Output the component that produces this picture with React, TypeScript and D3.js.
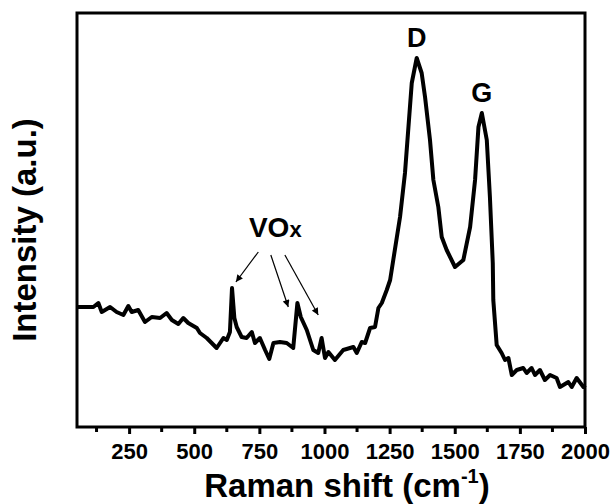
import React, { useEffect, useRef } from "react";
import * as d3 from "d3";

// Raman spectrum (x: cm^-1, y: a.u.)
const shift = [
  50, 55, 113, 132, 145, 177, 202, 228, 247, 260, 285, 311, 337, 369, 394, 414,
  439, 458, 477, 510, 522, 548, 586, 612, 625, 637, 645, 654, 663, 682, 701, 721,
  733, 752, 772, 788, 804, 829, 855, 880, 896, 909, 932, 957, 976, 989, 1002, 1015,
  1040, 1072, 1098, 1111, 1124, 1143, 1156, 1175, 1194, 1207, 1220, 1239, 1252, 1264,
  1290, 1309, 1335, 1354, 1373, 1386, 1405, 1418, 1437, 1450, 1469, 1501, 1533, 1559,
  1578, 1591, 1604, 1623, 1635, 1646, 1648, 1661, 1680, 1693, 1706, 1719, 1738, 1763,
  1776, 1795, 1808, 1827, 1846, 1866, 1891, 1904, 1936, 1949, 1968, 1994, 2000,
];
const intensity = [
  120, 120, 120, 124, 115, 120, 115, 112, 121, 115, 117, 105, 110, 109, 114, 107,
  103, 109, 104, 99, 94, 89, 79, 89, 87, 95, 139, 109, 100, 90, 89, 95,
  84, 89, 77, 68, 84, 85, 84, 79, 124, 110, 97, 77, 74, 89, 69, 75,
  67, 77, 79, 80, 74, 85, 84, 99, 100, 119, 124, 137, 147, 167,
  210, 254, 344, 369, 354, 330, 287, 247, 220, 190, 177, 160, 167, 200,
  247, 300, 314, 287, 230, 164, 127, 82, 74, 67, 69, 52, 57, 59,
  54, 59, 52, 57, 47, 52, 49, 40, 45, 40, 49, 40, 42,
];

const majorTicks = [250, 500, 750, 1000, 1250, 1500, 1750, 2000];
const minorTicks = [125, 375, 625, 875, 1125, 1375, 1625, 1875];

const peakLabels = [
  { text: "D", x: 1354, y: 380 },
  { text: "G", x: 1604, y: 325 },
];

// arrows from the VOx label to the small peaks: [x0, y0, x1, y1] in data units
const voxArrows = [
  [746, 175, 660, 145],
  [794, 172, 861, 120],
  [848, 172, 976, 112],
];

const FONT = "'Liberation Sans', Arial, Helvetica, sans-serif";

const App = () => {
  const ref = useRef<SVGSVGElement>(null);

  useEffect(() => {
    drawChart();
  }, []);

  const drawChart = () => {
    const width = 614;
    const height = 504;
    const margin = { top: 13, right: 29, bottom: 77, left: 77 };

    const svg = d3.select(ref.current);
    svg.selectAll("*").remove();
    svg.attr("width", width).attr("height", height);

    const x = d3
      .scaleLinear()
      .domain([50, 2000])
      .range([margin.left, width - margin.right]);

    const y = d3
      .scaleLinear()
      .domain([0, 414])
      .range([height - margin.bottom, margin.top]);

    const defs = svg.append("defs");
    defs
      .append("marker")
      .attr("id", "arrowhead")
      .attr("viewBox", "0 0 10 10")
      .attr("refX", 10)
      .attr("refY", 5)
      .attr("markerWidth", 9)
      .attr("markerHeight", 7)
      .attr("markerUnits", "userSpaceOnUse")
      .attr("orient", "auto")
      .append("path")
      .attr("d", "M0,0 L10,5 L0,10 Z")
      .attr("fill", "#000");

    // x axis (ticks outward)
    const bottom = height - margin.bottom;
    const axis = svg.append("g").attr("transform", `translate(0,${bottom})`);
    axis
      .call(
        d3
          .axisBottom(x)
          .tickValues(majorTicks)
          .tickSize(7)
          .tickPadding(9)
          .tickFormat(d3.format("d"))
      )
      .call((g) => g.select(".domain").remove());
    axis.selectAll(".tick line").attr("stroke", "#000").attr("stroke-width", 3);
    axis
      .selectAll(".tick text")
      .attr("fill", "#000")
      .attr("font-family", FONT)
      .attr("font-weight", "bold")
      .attr("font-size", 22);

    axis
      .selectAll(".minor")
      .data(minorTicks)
      .enter()
      .append("line")
      .attr("x1", (d) => x(d))
      .attr("x2", (d) => x(d))
      .attr("y1", 0)
      .attr("y2", 5)
      .attr("stroke", "#000")
      .attr("stroke-width", 3);

    // spectrum
    const pts = shift.map((s, i) => [s, intensity[i]]);
    const line = d3
      .line()
      .x((d) => x(d[0]))
      .y((d) => y(d[1]));

    svg
      .append("path")
      .datum(pts)
      .attr("fill", "none")
      .attr("stroke", "#000")
      .attr("stroke-width", 4)
      .attr("stroke-linejoin", "round")
      .attr("d", line);

    // frame
    svg
      .append("rect")
      .attr("x", margin.left)
      .attr("y", margin.top)
      .attr("width", width - margin.left - margin.right)
      .attr("height", height - margin.top - margin.bottom)
      .attr("fill", "none")
      .attr("stroke", "#000")
      .attr("stroke-width", 3);

    // peak labels
    svg
      .selectAll(".peak")
      .data(peakLabels)
      .enter()
      .append("text")
      .attr("x", (d) => x(d.x))
      .attr("y", (d) => y(d.y))
      .attr("text-anchor", "middle")
      .attr("font-family", FONT)
      .attr("font-weight", "bold")
      .attr("font-size", 27)
      .text((d) => d.text);

    const vox = svg
      .append("text")
      .attr("x", x(710))
      .attr("y", y(190))
      .attr("font-family", FONT)
      .attr("font-weight", "bold")
      .attr("font-size", 28);
    vox.append("tspan").text("VO");
    vox.append("tspan").attr("font-size", 22).text("x");

    svg
      .selectAll(".arrow")
      .data(voxArrows)
      .enter()
      .append("line")
      .attr("x1", (d) => x(d[0]))
      .attr("y1", (d) => y(d[1]))
      .attr("x2", (d) => x(d[2]))
      .attr("y2", (d) => y(d[3]))
      .attr("stroke", "#000")
      .attr("stroke-width", 1.2)
      .attr("marker-end", "url(#arrowhead)");

    // axis titles
    const xt = svg
      .append("text")
      .attr("x", 347)
      .attr("y", 497)
      .attr("text-anchor", "middle")
      .attr("font-family", FONT)
      .attr("font-weight", "bold")
      .attr("font-size", 33);
    xt.append("tspan").text("Raman shift (cm");
    xt.append("tspan").attr("font-size", 20).attr("dy", -14).text("-1");
    xt.append("tspan").attr("dy", 14).text(")");

    svg
      .append("text")
      .attr("transform", "translate(36,230) rotate(-90)")
      .attr("text-anchor", "middle")
      .attr("font-family", FONT)
      .attr("font-weight", "bold")
      .attr("font-size", 33)
      .text("Intensity (a.u.)");
  };

  return (
    <div style={{ position: "absolute", left: 0, top: 0 }}>
      <svg ref={ref} style={{ display: "block", background: "#fff" }}></svg>
    </div>
  );
};

export default App;
